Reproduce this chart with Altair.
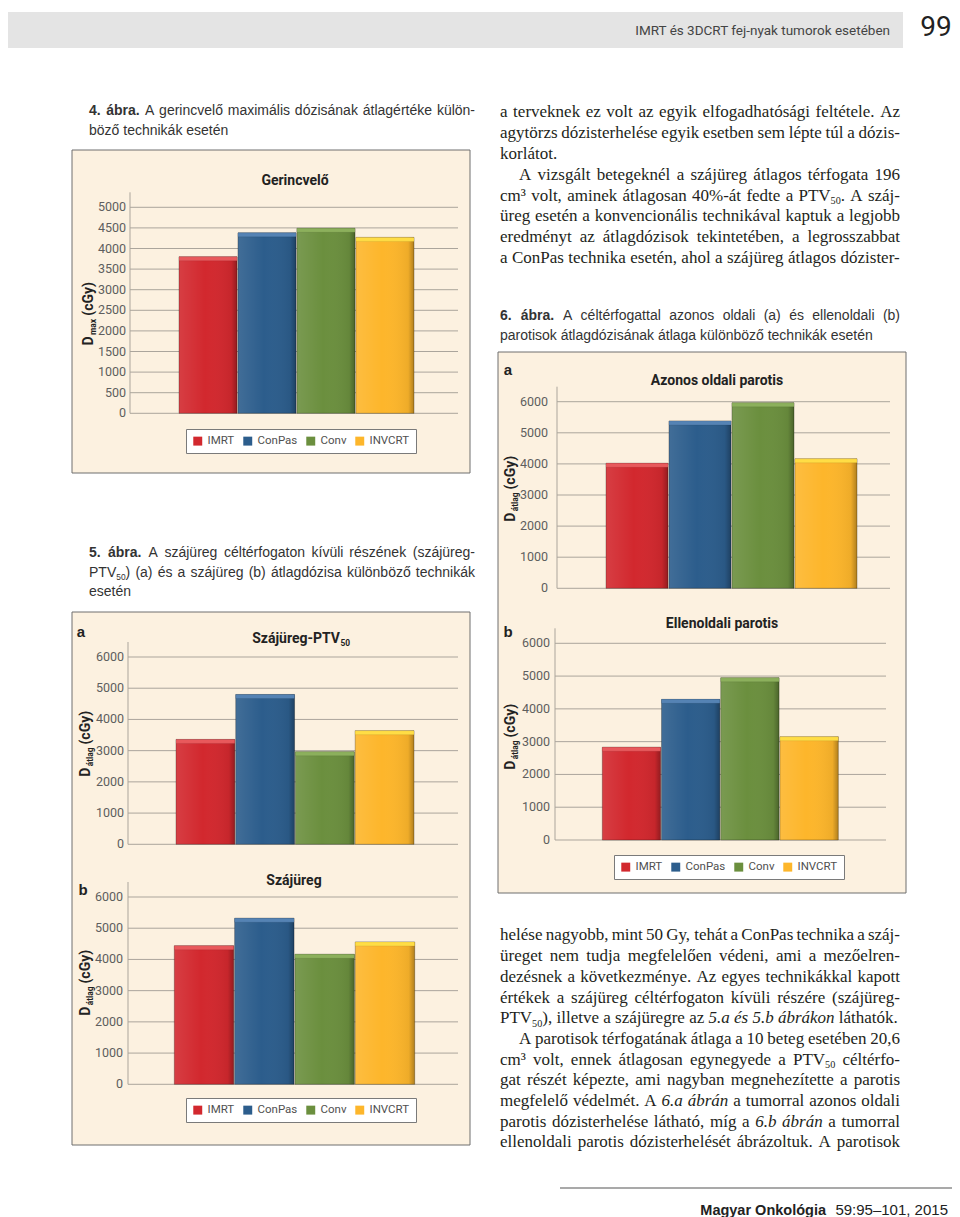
import re
import unicodedata
import pandas as pd
import altair as alt

OFF = 8
W, H = 944, 1209


def P(v):
    return v - OFF


# ---------------- data ----------------
TECHS = ["IMRT", "ConPas", "Conv", "INVCRT"]
GERINCVELO_DMAX = [3800, 4380, 4490, 4270]
SZAJUREG_PTV50_DATLAG = [3360, 4800, 2965, 3640]
SZAJUREG_DATLAG = [4440, 5320, 4165, 4560]
AZONOS_PAROTIS_DATLAG = [4020, 5380, 5965, 4165]
ELLEN_PAROTIS_DATLAG = [2830, 4290, 4950, 3150]
TICKS_5000 = [0, 500, 1000, 1500, 2000, 2500, 3000, 3500, 4000, 4500, 5000]
TICKS_6000 = [0, 1000, 2000, 3000, 4000, 5000, 6000]

HEADER_TITLE = "IMRT és 3DCRT fej-nyak tumorok esetében"
PAGE_NUMBER = "99"
FOOTER_JOURNAL = "Magyar Onkológia"
FOOTER_REF = "59:95–101, 2015"

TITLE_4 = "Gerincvelő"
TITLE_5A = "Szájüreg-PTV{50}"
TITLE_5B = "Szájüreg"
TITLE_6A = "Azonos oldali parotis"
TITLE_6B = "Ellenoldali parotis"

CAPTION_4 = ["!4. !ábra. A gerincvelő maximális dózisának átlagértéke külön-",
             "böző technikák esetén"]
CAPTION_5 = ["!5. !ábra. A szájüreg céltérfogaton kívüli részének (szájüreg-",
             "PTV{50}) (a) és a szájüreg (b) átlagdózisa különböző technikák",
             "esetén"]
CAPTION_6 = ["!6. !ábra. A céltérfogattal azonos oldali (a) és ellenoldali (b)",
             "parotisok átlagdózisának átlaga különböző technikák esetén"]

TEXT_TOP = [
    "a terveknek ez volt az egyik elfogadhatósági feltétele. Az",
    "agytörzs dózisterhelése egyik esetben sem lépte túl a dózis-",
    "korlátot.",
    "A vizsgált betegeknél a szájüreg átlagos térfogata 196",
    "cm³ volt, aminek átlagosan 40%-át fedte a PTV{50}. A száj-",
    "üreg esetén a konvencionális technikával kaptuk a legjobb",
    "eredményt az átlagdózisok tekintetében, a legrosszabbat",
    "a ConPas technika esetén, ahol a szájüreg átlagos dózister-",
]
TEXT_TOP_ALIGN = "JJLJJJJJ"
TEXT_TOP_INDENT = [0, 0, 0, 1, 0, 0, 0, 0]

TEXT_BOTTOM = [
    "helése nagyobb, mint 50 Gy, tehát a ConPas technika a száj-",
    "üreget nem tudja megfelelően védeni, ami a mezőelren-",
    "dezésnek a következménye. Az egyes technikákkal kapott",
    "értékek a szájüreg céltérfogaton kívüli részére (szájüreg-",
    "PTV{50}), illetve a szájüregre az ~5.a ~és ~5.b ~ábrákon láthatók.",
    "A parotisok térfogatának átlaga a 10 beteg esetében 20,6",
    "cm³ volt, ennek átlagosan egynegyede a PTV{50} céltérfo-",
    "gat részét képezte, ami nagyban megnehezítette a parotis",
    "megfelelő védelmét. A ~6.a ~ábrán a tumorral azonos oldali",
    "parotis dózisterhelése látható, míg a ~6.b ~ábrán a tumorral",
    "ellenoldali parotis dózisterhelését ábrázoltuk. A parotisok",
]
TEXT_BOTTOM_ALIGN = "JJJJLJJJJJJ"
TEXT_BOTTOM_INDENT = [0, 0, 0, 0, 0, 1, 0, 0, 0, 0, 0]

# ---------------- styles ----------------
BAR_COLORS = ["#D2282E", "#2C5D8C", "#6B8F3E", "#FDB62B"]
TOP_COLORS = ["#E8595C", "#5583B4", "#8CB05C", "#FFDD45"]
BEIGE = "#FCF1E0"
FRAME = "#6E6E6E"
GRID = "#ABA59C"

SERIF = "'Liberation Serif', 'Times New Roman', serif"
SANS = "'Liberation Sans', Arial, sans-serif"
COND = "Roboto, 'Liberation Sans', sans-serif"


def _table(spec, space):
    d = {" ": space}
    for chunk in spec.split():
        d[chunk[0]] = int(chunk[1:])
    return d


HELV = _table(
    "A667 B667 C722 D722 E667 F611 G778 H722 I278 J500 K667 L556 M833 N722 O778 P667 Q778 R722 "
    "S667 T611 U722 V667 W944 X667 Y667 Z611 a556 b556 c500 d556 e556 f278 g556 h556 i222 j222 "
    "k500 l222 m833 n556 o556 p556 q556 r333 s500 t278 u556 v500 w722 x500 y500 z500 "
    "0556 1556 2556 3556 4556 5556 6556 7556 8556 9556 (333 )333 ,278 -333 .278 :278 %889 –556 ³333 /278",
    278)
TIMES = _table(
    "A722 B667 C667 D722 E611 F556 G722 H722 I333 J389 K722 L611 M889 N722 O722 P556 Q722 R667 "
    "S556 T611 U722 V722 W944 X722 Y722 Z611 a444 b500 c444 d500 e444 f333 g500 h500 i278 j278 "
    "k500 l278 m778 n500 o500 p500 q500 r333 s389 t278 u500 v500 w722 x500 y500 z444 "
    "0500 1500 2500 3500 4500 5500 6500 7500 8500 9500 (333 )333 ,250 -333 .250 :278 %833 –500 ³300 /278",
    250)
TIMES_IT = dict(TIMES)
TIMES_IT.update({"a": 500, "c": 444, "e": 444, "k": 444, "r": 389, "n": 500, "v": 444, "s": 389})

FONTS = {"serif": (SERIF, TIMES, 1.0), "sans": (SANS, HELV, 1.0), "cond": (COND, HELV, 0.97)}
SUB = 0.6


def cw(ch, table):
    if ch in table:
        return table[ch]
    base = unicodedata.normalize("NFD", ch)[0]
    return table.get(base, 500)


def tw(text, fam, size, bold=False, italic=False):
    _, table, factor = FONTS[fam]
    if fam == "serif" and italic:
        table = TIMES_IT
    b = 1.06 if (bold and fam != "serif") else 1.0
    return sum(cw(c, table) for c in text) * size / 1000.0 * factor * b


def split_sub(text, bold=False, italic=False):
    pieces = []
    for part in re.split(r"(\{[^}]*\})", text):
        if not part:
            continue
        if part.startswith("{"):
            pieces.append((part[1:-1], bold, italic, True))
        else:
            pieces.append((part, bold, italic, False))
    return pieces


def parse_word(word):
    bold = italic = False
    while word and word[0] in "!~":
        if word[0] == "!":
            bold = True
        else:
            italic = True
        word = word[1:]
    return split_sub(word, bold, italic)


def pieces_width(pieces, fam, size):
    return sum(tw(t, fam, size * SUB if s else size, b, i) for t, b, i, s in pieces)


def emit(rows, pieces, x, yb, fam, size, color):
    for text, bold, italic, sub in pieces:
        s = size * SUB if sub else size
        y = yb + (size * 0.2 if sub else 0)
        rows.append(dict(x=P(x), y=P(y), text=text, size=s, fam=fam,
                         weight="bold" if bold else "normal",
                         style="italic" if italic else "normal",
                         color=color, angle=0, align="left"))
        x += tw(text, fam, s, bold, italic)
    return x


def block(rows, lines, aligns, indents, x0, x1, y0, dy, fam, size, color, indent_px=19):
    space = FONTS[fam][1][" "] * size / 1000.0 * FONTS[fam][2]
    for i, line in enumerate(lines):
        yb = y0 + i * dy + 0.32 * size
        start = x0 + (indent_px if indents[i] else 0)
        words = [parse_word(w) for w in line.split(" ")]
        widths = [pieces_width(w, fam, size) for w in words]
        justify = aligns[i] == "J" and len(words) > 1
        gap = (x1 - start - sum(widths)) / (len(words) - 1) if justify else space
        x = start
        for k, (w, ww) in enumerate(zip(words, widths)):
            if justify and k == len(words) - 1:
                x = x1 - ww
            emit(rows, w, x, yb, fam, size, color)
            x += ww + gap


def inline(rows, text, xa, yc, fam, size, color, bold=False, align="center"):
    """Single-style text; a trailing subscript is attached at the junction point."""
    pieces = split_sub(text, bold=bold)
    yb = yc + 0.35 * size
    weight = "bold" if bold else "normal"
    if len(pieces) == 1:
        rows.append(dict(x=P(xa), y=P(yb), text=text, size=size, fam=fam,
                         weight=weight, style="normal", color=color, angle=0, align=align))
        return
    total = pieces_width(pieces, fam, size)
    x = {"center": xa - total / 2, "right": xa - total, "left": xa}[align]
    main, sub = pieces[0], pieces[1]
    junction = x + tw(main[0], fam, size, bold)
    rows.append(dict(x=P(junction), y=P(yb), text=main[0], size=size, fam=fam,
                     weight=weight, style="normal", color=color, angle=0, align="right"))
    rows.append(dict(x=P(junction + 0.5), y=P(yb + size * 0.2), text=sub[0], size=size * SUB,
                     fam=fam, weight=weight, style="normal", color=color, angle=0, align="left"))


def rotated(rows, sub_text, xc, yc, fam="cond", size=14, color="#222222"):
    pieces = [("D", True, False, False), (sub_text, True, False, True), ("(cGy)", True, False, False)]
    total = pieces_width(pieces, fam, size) + 3
    y = yc + total / 2
    xb = xc + 0.36 * size
    for text, bold, italic, sub in pieces:
        s = size * SUB if sub else size
        x = xb + (size * 0.22 if sub else 0)
        rows.append(dict(x=P(x), y=P(y), text=text, size=s, fam=fam, weight="bold",
                         style="normal", color=color, angle=270, align="left"))
        y -= tw(text, fam, s, True) + (3 if sub else 0)


def text_layers(rows):
    df = pd.DataFrame(rows)
    layers = []
    for key, g in df.groupby(["fam", "weight", "style", "color", "angle", "align"], sort=False):
        fam, weight, style, color, angle, align = key
        mk = dict(font=FONTS[fam][0], fontWeight=weight, fontStyle=style, color=color,
                  align=align, baseline="alphabetic")
        if int(angle):
            mk["angle"] = int(angle)
        layers.append(
            alt.Chart(g[["x", "y", "text", "size"]].reset_index(drop=True)).mark_text(**mk).encode(
                x=alt.X("x:Q", scale=None, axis=None),
                y=alt.Y("y:Q", scale=None, axis=None),
                text="text:N",
                size=alt.Size("size:Q", scale=None, legend=None),
            )
        )
    return layers


ONE = pd.DataFrame({"k": [0]})


def rect(x0, y0, x1, y1, **kw):
    return alt.Chart(ONE).mark_rect(**kw).encode(
        x=alt.value(P(x0)), x2=alt.value(P(x1)), y=alt.value(P(y0)), y2=alt.value(P(y1)))


def hline(x0, x1, y, **kw):
    return alt.Chart(ONE).mark_rule(**kw).encode(
        x=alt.value(P(x0)), x2=alt.value(P(x1)), y=alt.value(P(y)))


SHADE = alt.Gradient(
    gradient="linear", x1=0, x2=1, y1=0, y2=0,
    stops=[alt.GradientStop(offset=0, color="rgba(255,255,255,0.10)"),
           alt.GradientStop(offset=0.45, color="rgba(255,255,255,0.0)"),
           alt.GradientStop(offset=0.9, color="rgba(0,0,0,0.06)"),
           alt.GradientStop(offset=1, color="rgba(0,0,0,0.30)")])


def panel(values, ticks, ymax, bx0, bx1, ybot, ytop, gx0, gx1, lab_x, legend_at=None):
    df = pd.DataFrame({"tech": TECHS, "value": values, "top": TOP_COLORS})
    tdf = pd.DataFrame({"value": ticks, "label": [str(t) for t in ticks]})
    xenc = alt.X("tech:N", sort=TECHS, axis=None,
                 scale=alt.Scale(domain=TECHS, range=[P(bx0), P(bx1)], paddingInner=0.015, paddingOuter=0))
    yscale = alt.Scale(domain=[0, ymax], range=[P(ybot), P(ytop)], nice=False, zero=True)
    yenc = alt.Y("value:Q", axis=None, scale=yscale)
    grid = alt.Chart(tdf).mark_rule(color=GRID, strokeWidth=1).encode(
        y=yenc, x=alt.value(P(gx0)), x2=alt.value(P(gx1)))
    axisline = alt.Chart(ONE).mark_rule(color=GRID, strokeWidth=1).encode(
        x=alt.value(P(gx0)), y=alt.value(P(ytop - 15)), y2=alt.value(P(ybot)))
    labels = alt.Chart(tdf).mark_text(align="right", baseline="middle", font=COND,
                                      fontSize=12.5, color="#5e5e5e").encode(
        y=yenc, x=alt.value(P(lab_x)), text="label:N")
    if legend_at:
        legend = alt.Legend(orient="none", legendX=P(legend_at[0]), legendY=P(legend_at[1]),
                            direction="horizontal", title=None, symbolType="square",
                            symbolSize=80, symbolStrokeWidth=0, labelFont=COND,
                            labelFontSize=11.5, labelColor="#505050", fillColor="#FFFFFF",
                            strokeColor="#7a7a7a", padding=6, columnPadding=7, labelOffset=4)
    else:
        legend = None
    bars = alt.Chart(df).mark_bar(stroke="rgba(0,0,0,0.35)", strokeWidth=0.8).encode(
        x=xenc, y=yenc,
        color=alt.Color("tech:N", sort=TECHS, legend=legend,
                        scale=alt.Scale(domain=TECHS, range=BAR_COLORS)))
    shade = alt.Chart(df).mark_bar(color=SHADE).encode(x=xenc, y=yenc)
    bevel = alt.Chart(df).mark_rect(y2Offset=4, stroke="rgba(0,0,0,0.15)", strokeWidth=0.5).encode(
        x=xenc, y=yenc, y2=alt.Y2("value:Q"),
        fill=alt.Fill("top:N", scale=None, legend=None))
    return alt.layer(grid, axisline, bars, shade, bevel, labels)


rows = []
# header
inline(rows, HEADER_TITLE, 890, 30, "cond", 13.5, "#444444", align="right")
inline(rows, PAGE_NUMBER, 936, 26, "cond", 28, "#222222")
# captions
block(rows, CAPTION_4, "JL", [0, 0], 89, 475, 111, 20, "sans", 14, "#333333")
block(rows, CAPTION_5, "JJL", [0, 0, 0], 89, 475, 553, 19.5, "sans", 14, "#333333")
block(rows, CAPTION_6, "JL", [0, 0], 500, 900, 316, 20, "sans", 14, "#333333")
# body text
block(rows, TEXT_TOP, TEXT_TOP_ALIGN, TEXT_TOP_INDENT, 500, 900, 112, 20.8, "serif", 17, "#231F20")
block(rows, TEXT_BOTTOM, TEXT_BOTTOM_ALIGN, TEXT_BOTTOM_INDENT, 500, 900, 935, 20.7, "serif", 17, "#231F20")
# chart titles / labels
inline(rows, TITLE_4, 295, 180, "cond", 14, "#222222", bold=True)
inline(rows, TITLE_5A, 300, 638, "cond", 14, "#222222", bold=True)
inline(rows, TITLE_5B, 294, 880, "cond", 14, "#222222", bold=True)
inline(rows, TITLE_6A, 717, 380, "cond", 14, "#222222", bold=True)
inline(rows, TITLE_6B, 722, 623, "cond", 14, "#222222", bold=True)
inline(rows, "a", 81, 632, "sans", 15, "#222222", bold=True)
inline(rows, "b", 83, 890, "sans", 15, "#222222", bold=True)
inline(rows, "a", 508, 370, "sans", 15, "#222222", bold=True)
inline(rows, "b", 508, 632, "sans", 15, "#222222", bold=True)
rotated(rows, "max", 88, 313)
rotated(rows, "átlag", 85, 743)
rotated(rows, "átlag", 85, 982)
rotated(rows, "átlag", 510, 488)
rotated(rows, "átlag", 510, 736)
# footer
inline(rows, FOOTER_JOURNAL, 826, 1210, "sans", 14.5, "#222222", bold=True, align="right")
inline(rows, FOOTER_REF, 948, 1210, "sans", 15, "#222222", align="right")

layers = [
    rect(OFF, 12, 903, 48, fill="#E4E4E4"),
    rect(72, 150, 470, 473, fill=BEIGE, stroke=FRAME, strokeWidth=1),
    rect(72, 612, 470, 1145, fill=BEIGE, stroke=FRAME, strokeWidth=1),
    rect(498, 352, 906, 893, fill=BEIGE, stroke=FRAME, strokeWidth=1),
    hline(560, 952, 1188, color="#555555", strokeWidth=1.2),
    panel(GERINCVELO_DMAX, TICKS_5000, 5000, 179, 414, 413.3, 207.3, 130, 458, 126, (186, 429)),
    panel(SZAJUREG_PTV50_DATLAG, TICKS_6000, 6000, 176, 414, 844.3, 657, 128, 458, 124),
    panel(SZAJUREG_DATLAG, TICKS_6000, 6000, 174.3, 414.7, 1084.3, 897, 128, 458, 123, (186, 1098)),
    panel(AZONOS_PAROTIS_DATLAG, TICKS_6000, 6000, 606, 857, 588.3, 401.7, 557, 890, 548),
    panel(ELLEN_PAROTIS_DATLAG, TICKS_6000, 6000, 602.3, 838.3, 840, 643.3, 555, 886, 550, (614, 855)),
] + text_layers(rows)

chart = alt.layer(*layers).resolve_scale(
    x="independent", y="independent", color="independent"
).properties(
    width=W, height=H, padding=0, background="white",
    autosize=alt.AutoSizeParams(type="none"),
).configure_view(strokeWidth=0)

chart.save("out.html", embed_options={"renderer": "svg", "actions": False})
